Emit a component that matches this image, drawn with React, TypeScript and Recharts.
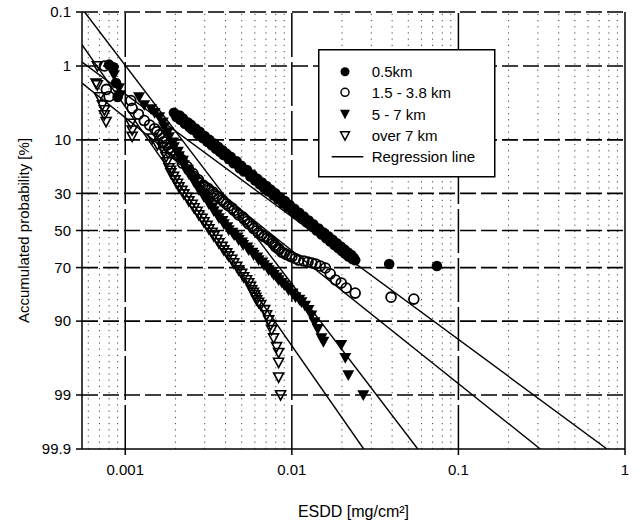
import React from "react";
import {
  ScatterChart,
  Scatter,
  XAxis,
  YAxis,
  ReferenceLine,
} from "recharts";

// ESDD [mg/cm2] and accumulated probability [%] per site distance
const esdd05 = [
  0.0008, 0.00085, 0.00088, 0.0009, 0.00196, 0.00212, 0.00203, 0.00222, 0.00214, 0.00238,
  0.00228, 0.00248, 0.00243, 0.00264, 0.00253, 0.0028, 0.00272, 0.003, 0.00292, 0.0032,
  0.00311, 0.00342, 0.0033, 0.00362, 0.0035, 0.00383, 0.0037, 0.00404, 0.00389, 0.0043,
  0.00418, 0.00466, 0.00447, 0.00497, 0.00486, 0.00538, 0.00516, 0.0058, 0.00564, 0.00621,
  0.00603, 0.00662, 0.00642, 0.00704, 0.00681, 0.00745, 0.0072, 0.00797, 0.00778, 0.00849,
  0.00827, 0.00911, 0.00885, 0.00973, 0.00943, 0.01035, 0.0101, 0.01108, 0.0107, 0.0118,
  0.01148, 0.01263, 0.01225, 0.01346, 0.01313, 0.01449, 0.0141, 0.01553, 0.01508, 0.01656,
  0.01605, 0.0176, 0.01702, 0.01863, 0.018, 0.01967, 0.01897, 0.0207, 0.01995, 0.02174,
  0.0209, 0.02277, 0.0219, 0.0235, 0.0231, 0.024, 0.0384, 0.0743,
];
const prob05 = [
  0.95, 1.05, 1.85, 2.95, 4.8, 5.2, 5.42, 5.65, 5.87, 6.33,
  6.55, 6.76, 7.23, 7.45, 7.68, 8.15, 8.61, 9.1, 9.55, 10.0,
  10.5, 10.95, 11.4, 11.9, 12.4, 12.85, 13.3, 13.8, 14.3, 14.9,
  15.6, 16.4, 17.1, 18.0, 18.9, 19.6, 20.2, 21.5, 22.3, 23.2,
  24.0, 24.9, 25.7, 26.5, 27.3, 28.1, 29.0, 30.0, 31.0, 31.9,
  32.9, 33.9, 35.0, 36.0, 37.0, 37.9, 39.0, 40.1, 41.1, 42.2,
  43.3, 44.4, 45.4, 46.5, 47.7, 48.9, 50.0, 51.2, 52.2, 53.3,
  54.3, 55.3, 56.2, 57.2, 58.1, 59.0, 59.8, 60.6, 61.4, 62.2,
  62.9, 63.6, 64.3, 65.0, 65.6, 66.3, 68.2, 69.2,
];

const esdd15 = [
  0.00075, 0.00077, 0.0008, 0.00108, 0.0011, 0.0012, 0.0013, 0.0014, 0.0015, 0.00155,
  0.0016, 0.00168, 0.0017, 0.00179, 0.00183, 0.0019, 0.00187, 0.00202, 0.0021, 0.00219,
  0.0022, 0.00235, 0.00241, 0.00255, 0.0026, 0.00275, 0.00277, 0.00293, 0.003, 0.00314,
  0.00318, 0.00336, 0.0034, 0.00356, 0.00365, 0.00384, 0.0039, 0.00405, 0.00418, 0.00438,
  0.0045, 0.00468, 0.0048, 0.00508, 0.0052, 0.00538, 0.0055, 0.00578, 0.0059, 0.00618,
  0.0063, 0.0066, 0.0068, 0.00712, 0.0073, 0.0076, 0.0077, 0.0079, 0.008, 0.0083,
  0.0084, 0.0087, 0.009, 0.0093, 0.0097, 0.01, 0.0105, 0.011, 0.0118, 0.0125,
  0.0132, 0.0139, 0.0148, 0.0159, 0.017, 0.0183, 0.0198, 0.0212, 0.024, 0.0394,
  0.054,
];
const prob15 = [
  1.0, 2.3, 2.9, 3.3, 4.2, 5.0, 6.0, 6.8, 7.5, 8.1,
  8.8, 9.6, 10.5, 11.3, 12.2, 12.9, 13.5, 14.2, 14.9, 15.9,
  17.0, 18.3, 19.6, 21.0, 22.3, 23.7, 25.1, 26.0, 26.8, 27.5,
  28.3, 29.3, 30.3, 31.3, 32.3, 33.3, 34.3, 35.3, 36.4, 37.6,
  38.8, 40.0, 41.3, 42.5, 43.8, 45.0, 46.3, 47.6, 48.9, 50.1,
  51.4, 52.4, 53.4, 54.3, 55.3, 56.2, 57.2, 58.2, 59.2, 60.0,
  60.6, 62.0, 62.6, 63.3, 64.0, 64.6, 65.4, 66.2, 66.7, 67.2,
  67.7, 68.2, 69.2, 70.2, 73.0, 75.8, 77.1, 79.2, 81.2, 82.7,
  83.4,
];

const esdd57 = [
  0.000856, 0.000917, 0.000934, 0.00121, 0.0013, 0.00143, 0.0015, 0.0016, 0.00168, 0.00171,
  0.0018, 0.00183, 0.00194, 0.00196, 0.00207, 0.0021, 0.00222, 0.00225, 0.00238, 0.00241,
  0.00255, 0.00259, 0.00272, 0.00277, 0.00292, 0.00297, 0.00312, 0.00318, 0.00334, 0.0034,
  0.00357, 0.00365, 0.00383, 0.00391, 0.0041, 0.00418, 0.0044, 0.0045, 0.00472, 0.0048,
  0.00502, 0.0051, 0.0054, 0.00551, 0.0058, 0.0059, 0.0062, 0.00632, 0.00665, 0.0068,
  0.00712, 0.00726, 0.0076, 0.0078, 0.00815, 0.00833, 0.0087, 0.009, 0.0094, 0.00956,
  0.0101, 0.01052, 0.0111, 0.01143, 0.012, 0.01259, 0.0131, 0.01367, 0.0143, 0.01505,
  0.01547, 0.0198, 0.02094, 0.02183, 0.02684,
];
const prob57 = [
  1.39, 2.19, 2.76, 2.95, 3.8, 4.28, 4.8, 5.42, 6.3, 7.16,
  8.2, 9.3, 10.6, 11.9, 13.2, 14.6, 16.1, 17.7, 19.4, 21.2,
  22.9, 24.6, 26.4, 28.3, 30.0, 31.8, 33.6, 35.4, 37.2, 39.1,
  41.0, 43.0, 44.6, 46.3, 48.0, 49.7, 51.1, 52.5, 53.9, 55.3,
  56.6, 58.0, 59.4, 60.9, 62.2, 63.5, 64.8, 66.2, 67.4, 68.7,
  70.0, 71.2, 72.3, 73.5, 74.6, 75.8, 76.9, 78.0, 79.0, 80.0,
  81.3, 82.7, 83.6, 84.4, 85.6, 86.9, 88.5, 90.2, 91.8, 93.6,
  94.2, 94.7, 96.4, 97.95, 99.0,
];

const esdd7 = [
  0.00068, 0.000668, 0.00068, 0.000699, 0.000729, 0.000749, 0.000749, 0.000767, 0.00108, 0.0011,
  0.0011, 0.001456, 0.00156, 0.001664, 0.00171, 0.00176, 0.00178, 0.00183, 0.00187, 0.00188,
  0.00195, 0.00199, 0.00206, 0.0021, 0.00219, 0.00225, 0.00235, 0.00241, 0.00252, 0.00259,
  0.0027, 0.00277, 0.00289, 0.00297, 0.0031, 0.00318, 0.00332, 0.0034, 0.00355, 0.00365,
  0.00381, 0.00391, 0.00407, 0.00418, 0.00436, 0.00448, 0.00467, 0.0048, 0.005, 0.00514,
  0.00535, 0.00551, 0.00565, 0.00574, 0.00588, 0.00598, 0.00608, 0.00615, 0.00632, 0.0065,
  0.00687, 0.00706, 0.00726, 0.00746, 0.00756, 0.00777, 0.0081, 0.00833, 0.00833, 0.00833,
  0.00856,
];
const prob7 = [
  1.0, 1.87, 1.98, 2.95, 3.8, 4.42, 5.1, 6.2, 6.5, 7.8,
  9.2, 9.6, 11.3, 11.9, 13.3, 14.9, 16.6, 18.8, 19.8, 20.8,
  22.3, 23.8, 25.3, 26.9, 28.6, 30.3, 32.0, 33.8, 35.6, 37.5,
  39.4, 41.3, 43.2, 45.2, 47.2, 49.2, 51.1, 53.1, 55.0, 57.0,
  59.0, 60.9, 62.5, 64.1, 65.9, 67.7, 69.5, 71.2, 72.9, 74.5,
  75.8, 77.1, 78.6, 80.0, 81.0, 81.9, 82.8, 83.7, 84.6, 85.4,
  86.9, 88.4, 89.7, 90.9, 92.0, 93.6, 95.0, 95.8, 96.9, 98.1,
  99.0,
];

// regression lines, end points [esdd, probability]
const regEsdd = [
  [0.00055, 0.78],
  [0.00055, 0.31],
  [0.00057, 0.057],
  [0.00055, 0.027],
];
const regProb = [
  [0.86, 99.9],
  [1.85, 99.9],
  [0.1, 99.9],
  [0.43, 99.9],
];

const probTicks = [0.1, 1, 10, 30, 50, 70, 90, 99, 99.9];
const esddTicks = [0.001, 0.01, 0.1, 1];
const minorX = [
  0.0006, 0.0007, 0.0008, 0.0009,
  0.002, 0.003, 0.004, 0.005, 0.006, 0.007, 0.008, 0.009,
  0.02, 0.03, 0.04, 0.05, 0.06, 0.07, 0.08, 0.09,
  0.2, 0.3, 0.4, 0.5, 0.6, 0.7, 0.8, 0.9,
];

const FONT = "'Liberation Sans', Arial, sans-serif";

// inverse normal CDF (Acklam), used for the probability-paper y axis
function probit(p: number) {
  const a = [-39.69683028665376, 220.9460984245205, -275.9285104469687, 138.357751867269, -30.66479806614716, 2.506628277459239];
  const b = [-54.47609879822406, 161.5858368580409, -155.6989798598866, 66.80131188771972, -13.28068155288572];
  const c = [-0.007784894002430293, -0.3223964580411365, -2.400758277161838, -2.549732539343734, 4.374664141464968, 2.938163982698783];
  const d = [0.007784695709041462, 0.3224671290700398, 2.445134137142996, 3.754408661907416];
  const lo = 0.02425;
  if (p < lo) {
    const q = Math.sqrt(-2 * Math.log(p));
    return (((((c[0] * q + c[1]) * q + c[2]) * q + c[3]) * q + c[4]) * q + c[5]) /
      ((((d[0] * q + d[1]) * q + d[2]) * q + d[3]) * q + 1);
  }
  if (p > 1 - lo) {
    const q = Math.sqrt(-2 * Math.log(1 - p));
    return -(((((c[0] * q + c[1]) * q + c[2]) * q + c[3]) * q + c[4]) * q + c[5]) /
      ((((d[0] * q + d[1]) * q + d[2]) * q + d[3]) * q + 1);
  }
  const q = p - 0.5;
  const r = q * q;
  return (((((a[0] * r + a[1]) * r + a[2]) * r + a[3]) * r + a[4]) * r + a[5]) * q /
    (((((b[0] * r + b[1]) * r + b[2]) * r + b[3]) * r + b[4]) * r + 1);
}

const z = (pct: number) => probit(pct / 100);
const toPoints = (xs: number[], ps: number[]) => xs.map((x, i) => ({ x, y: z(ps[i]) }));

const s05 = toPoints(esdd05, prob05);
const s15 = toPoints(esdd15, prob15);
const s57 = toPoints(esdd57, prob57);
const s7 = toPoints(esdd7, prob7);
const regLines = regEsdd.map((xs, i) => toPoints(xs, regProb[i]));

const yTicks = probTicks.map(z);
const Y_MIN = z(0.1);
const Y_MAX = z(99.9);

const tickStyle = { fontSize: 15, fill: "#000", fontFamily: FONT };

function FilledCircle({ cx, cy }: any) {
  return <circle cx={cx} cy={cy} r={5.3} fill="#000" />;
}
function OpenCircle({ cx, cy }: any) {
  return <circle cx={cx} cy={cy} r={4.9} fill="none" stroke="#000" strokeWidth={1.8} />;
}
function FilledTri({ cx, cy }: any) {
  return <polygon points={`${cx - 6},${cy - 4.8} ${cx + 6},${cy - 4.8} ${cx},${cy + 6}`} fill="#000" />;
}
function OpenTri({ cx, cy }: any) {
  return (
    <polygon
      points={`${cx - 5},${cy - 4.2} ${cx + 5},${cy - 4.2} ${cx},${cy + 5}`}
      fill="none"
      stroke="#000"
      strokeWidth={1.6}
    />
  );
}
const NoShape = () => <g />;

function ProbLegend() {
  const rowY = [22.7, 43.3, 65.3, 86.7, 107.7];
  const labels = ["0.5km", "1.5 - 3.8 km", "5 - 7 km", "over 7 km", "Regression line"];
  const sx = 27;
  return (
    <svg
      width={178}
      height={129}
      style={{ position: "absolute", left: 318, top: 49 }}
    >
      <rect x={0.75} y={0.75} width={176} height={127} fill="#fff" stroke="#000" strokeWidth={1.5} />
      <circle cx={sx} cy={rowY[0]} r={4.5} fill="#000" />
      <circle cx={sx} cy={rowY[1]} r={4} fill="#fff" stroke="#000" strokeWidth={1.5} />
      <polygon points={`${sx - 5},${rowY[2] - 4.5} ${sx + 5},${rowY[2] - 4.5} ${sx},${rowY[2] + 5}`} fill="#000" />
      <polygon
        points={`${sx - 4.5},${rowY[3] - 4} ${sx + 4.5},${rowY[3] - 4} ${sx},${rowY[3] + 4.5}`}
        fill="#fff"
        stroke="#000"
        strokeWidth={1.4}
      />
      <line x1={13.7} x2={45.3} y1={rowY[4]} y2={rowY[4]} stroke="#000" strokeWidth={1.4} />
      {labels.map((l, i) => (
        <text key={l} x={53.7} y={rowY[i]} dy="0.36em" fontSize={15} fontFamily={FONT} fill="#000">
          {l}
        </text>
      ))}
    </svg>
  );
}

export default function App() {
  return (
    <div style={{ position: "absolute", left: 0, top: 0, width: 640, height: 526, background: "#fff" }}>
      <ScatterChart width={640} height={526} margin={{ top: 12, right: 15, bottom: 37, left: 0 }}>
        <XAxis
          dataKey="x"
          type="number"
          scale="log"
          domain={[0.00055, 1]}
          allowDataOverflow
          ticks={esddTicks}
          interval={0}
          tickFormatter={(v: number) => String(v)}
          tick={tickStyle}
          tickSize={6}
          tickMargin={9}
          height={40}
          axisLine={{ stroke: "#000", strokeWidth: 1.5 }}
          tickLine={{ stroke: "#000", strokeWidth: 1.5 }}
          label={{
            value: "ESDD [mg/cm²]",
            position: "insideBottom",
            offset: -28,
            style: { fontSize: 16, fill: "#000", fontFamily: FONT },
          }}
        />
        <YAxis
          dataKey="y"
          type="number"
          domain={[Y_MIN, Y_MAX]}
          reversed
          allowDataOverflow
          ticks={yTicks}
          interval={0}
          width={82}
          tickFormatter={(v: number) => {
            let best = 0;
            yTicks.forEach((t, i) => {
              if (Math.abs(t - v) < Math.abs(yTicks[best] - v)) best = i;
            });
            return String(probTicks[best]);
          }}
          tick={tickStyle}
          tickSize={6}
          tickMargin={5}
          axisLine={{ stroke: "#000", strokeWidth: 1.5 }}
          tickLine={{ stroke: "#000", strokeWidth: 1.5 }}
          label={{
            value: "Accumulated probability [%]",
            angle: -90,
            position: "insideLeft",
            offset: 24,
            style: { fontSize: 15, fill: "#000", fontFamily: FONT, textAnchor: "middle" },
          }}
        />
        {minorX.map((v) => (
          <ReferenceLine key={`m${v}`} x={v} stroke="#444" strokeDasharray="1.2 5" strokeWidth={1} />
        ))}
        {esddTicks.slice(0, 3).map((v) => (
          <ReferenceLine key={`d${v}`} x={v} stroke="#000" strokeDasharray="44 5" strokeWidth={1.5} />
        ))}
        <ReferenceLine x={1} stroke="#000" strokeWidth={1.5} />
        {yTicks.slice(0, 8).map((v, i) => (
          <ReferenceLine key={`h${i}`} y={v} stroke="#000" strokeDasharray="16 5" strokeWidth={1.6} />
        ))}
        {regLines.map((d, i) => (
          <Scatter
            key={`r${i}`}
            data={d}
            line={{ stroke: "#000", strokeWidth: 1.4 }}
            shape={NoShape}
            isAnimationActive={false}
          />
        ))}
        <Scatter data={s7} shape={OpenTri} isAnimationActive={false} />
        <Scatter data={s57} shape={FilledTri} isAnimationActive={false} />
        <Scatter data={s15} shape={OpenCircle} isAnimationActive={false} />
        <Scatter data={s05} shape={FilledCircle} isAnimationActive={false} />
      </ScatterChart>
      <ProbLegend />
    </div>
  );
}
